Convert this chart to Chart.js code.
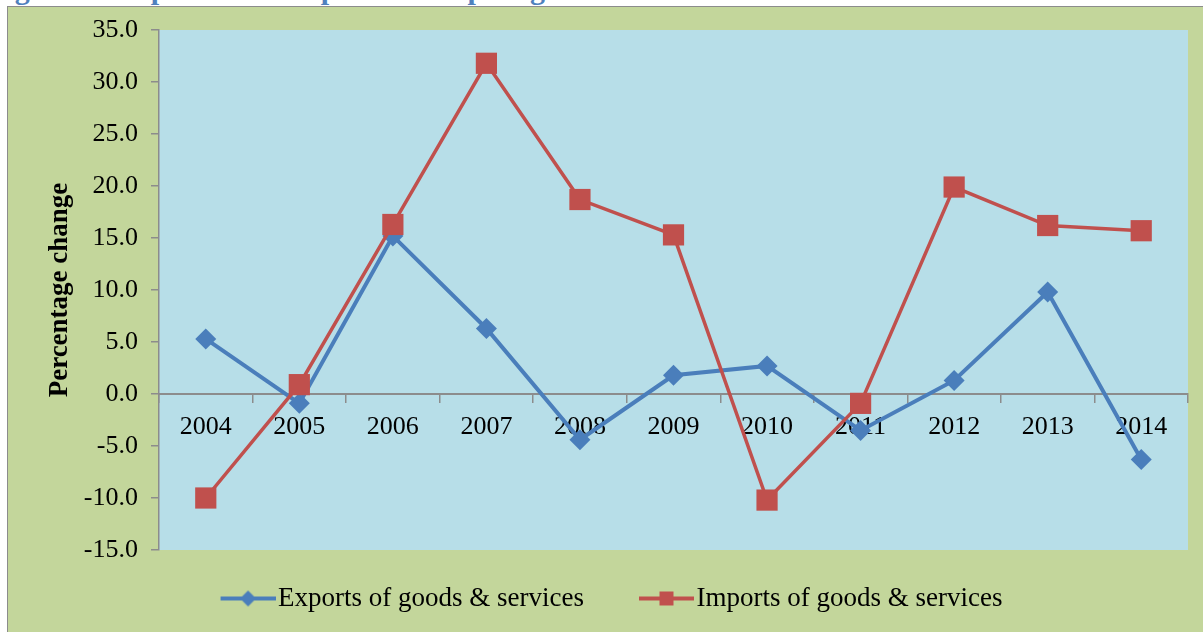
<!DOCTYPE html>
<html>
<head>
<meta charset="utf-8">
<script src="https://cdn.jsdelivr.net/npm/chart.js@4.4.1/dist/chart.umd.min.js"></script>
<style>
  html, body { margin: 0; padding: 0; background: #fff; width: 1203px; height: 632px; overflow: hidden; }
  #caption {
    position: absolute; left: -12px; top: -26px;
    font: bold 30px 'Liberation Serif', serif; line-height: 30px;
    color: #4f81bd; white-space: nowrap;
  }
  #frame {
    position: absolute; left: 7px; top: 6px; width: 1196px; height: 626px;
    background: #c3d69b; border-left: 1px solid #8c8c8c; border-top: 1px solid #8c8c8c;
  }
  #chart { position: absolute; left: 0; top: 0; }
</style>
</head>
<body>
<div id="caption">Figure 6: Gap between import and export growth</div>
<div id="frame"><canvas id="chart" width="1195" height="625"></canvas></div>
<script>
// growth of trade in goods & services, % change on previous year
const years = ['2004', '2005', '2006', '2007', '2008', '2009', '2010', '2011', '2012', '2013', '2014'];
const exportsGrowth = [5.3, -0.9, 15.2, 6.3, -4.4, 1.8, 2.7, -3.5, 1.3, 9.8, -6.3];
const importsGrowth = [-10.0, 0.9, 16.3, 31.8, 18.7, 15.3, -10.2, -0.9, 19.9, 16.2, 15.7];
const yMin = -15, yMax = 35, yStep = 5;

const BLUE = '#4a7ebb';
const RED = '#c0504d';
const AXIS = '#8c8c8c';
const SERIF = "'Liberation Serif', 'Times New Roman', serif";

// legend swatch: short line with the series marker in its middle
function legendSwatch(color, marker) {
  const c = document.createElement('canvas');
  c.width = 86; c.height = 22;
  const g = c.getContext('2d');
  const x0 = 31, x1 = 86, cy = 11, cx = (x0 + x1) / 2;
  g.strokeStyle = color; g.lineWidth = 4;
  g.beginPath(); g.moveTo(x0, cy); g.lineTo(x1, cy); g.stroke();
  g.fillStyle = color;
  g.beginPath();
  if (marker === 'diamond') {
    g.moveTo(cx, cy - 8); g.lineTo(cx + 8, cy); g.lineTo(cx, cy + 8); g.lineTo(cx - 8, cy);
  } else {
    g.rect(cx - 7, cy - 7, 14, 14);
  }
  g.closePath(); g.fill();
  return c;
}
const swatches = [legendSwatch(BLUE, 'diamond'), legendSwatch(RED, 'square')];

// light blue plot area
const plotBackground = {
  id: 'plotBackground',
  beforeDraw(chart) {
    const { ctx, chartArea: a } = chart;
    ctx.save();
    ctx.fillStyle = '#b7dee8';
    ctx.fillRect(a.left, a.top, a.right - a.left, a.bottom - a.top);
    ctx.restore();
  }
};

new Chart(document.getElementById('chart'), {
  type: 'line',
  data: {
    labels: years,
    datasets: [
      {
        label: 'Exports of goods & services',
        data: exportsGrowth,
        borderColor: BLUE,
        backgroundColor: BLUE,
        borderWidth: 4,
        pointStyle: 'rectRot',
        pointRadius: 10.5,
        pointBorderWidth: 0,
        tension: 0,
        order: 2,
      },
      {
        label: 'Imports of goods & services',
        data: importsGrowth,
        borderColor: RED,
        backgroundColor: RED,
        borderWidth: 3.5,
        pointStyle: 'rect',
        pointRadius: 15,
        pointBorderWidth: 0,
        tension: 0,
        order: 1,
      }
    ]
  },
  options: {
    responsive: false,
    animation: false,
    layout: { padding: { left: 0, top: 23, right: 8, bottom: 10 } },
    plugins: {
      tooltip: { enabled: false },
      legend: {
        position: 'bottom',
        labels: {
          color: '#000',
          font: { family: SERIF, size: 27 },
          usePointStyle: true,
          pointStyleWidth: 64,
          boxHeight: 20,
          padding: 35,
          sort: (a, b) => a.datasetIndex - b.datasetIndex,
          generateLabels(chart) {
            const items = Chart.defaults.plugins.legend.labels.generateLabels(chart);
            items.forEach(it => { it.pointStyle = swatches[it.datasetIndex]; });
            return items;
          }
        }
      }
    },
    scales: {
      x: {
        type: 'category',
        position: { y: 0 },
        offset: true,
        grid: { drawOnChartArea: false, offset: true, tickLength: 8, color: AXIS, lineWidth: 1.5 },
        border: { color: AXIS, width: 2 },
        ticks: { color: '#000', font: { family: SERIF, size: 26 }, padding: 10, autoSkip: false, maxRotation: 0 }
      },
      y: {
        min: yMin,
        max: yMax,
        afterFit(scale) {
          scale.width = 151;
          scale.paddingTop = 0;
          scale.paddingBottom = 0;
        },
        grid: { drawOnChartArea: false, tickLength: 8, color: AXIS, lineWidth: 1.5 },
        border: { color: AXIS, width: 1.5 },
        ticks: {
          stepSize: yStep,
          color: '#000',
          font: { family: SERIF, size: 26 },
          padding: 13,
          callback: v => v.toFixed(1)
        },
        title: {
          display: true,
          text: 'Percentage change',
          color: '#000',
          font: { family: SERIF, size: 27, weight: 'bold' },
          padding: { top: 36, bottom: 0 }
        }
      }
    }
  },
  plugins: [plotBackground]
});
</script>
</body>
</html>
